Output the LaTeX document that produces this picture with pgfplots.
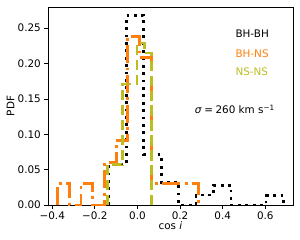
\documentclass[border=0pt]{standalone}
\usepackage{fontspec}
\setmainfont{DejaVu Sans}
\usepackage{pgfplots}
\pgfplotsset{compat=1.18}
\definecolor{mplorange}{HTML}{FF7F0E}
\definecolor{mplolive}{HTML}{BCBD22}
\begin{document}
\begin{tikzpicture}[font=\fontsize{10.4pt}{12pt}\selectfont]
\begin{axis}[
  scale only axis, width=245pt, height=198pt,
  xmin=-0.42, xmax=0.73, ymin=0, ymax=0.28,
  xtick={-0.4,-0.2,0,0.2,0.4,0.6},
  xticklabels={−0.4,−0.2,0.0,0.2,0.4,0.6},
  ytick={0,0.05,0.1,0.15,0.2,0.25},
  yticklabels={0.00,0.05,0.10,0.15,0.20,0.25},
  tick align=outside, xtick pos=bottom, ytick pos=left,
  major tick length=3.6pt,
  every tick/.style={black, line width=0.8pt},
  axis line style={line width=0.8pt},
  xlabel={cos \textit{i}}, ylabel={PDF},
  xlabel style={at={(axis description cs:0.5,-0.126)}, anchor=base},
  ylabel style={at={(axis description cs:-0.137,0.5)}, anchor=base},
  clip=false,
]
% BH-BH
\addplot[black, line width=2.8pt, line cap=butt, dash pattern=on 2.8pt off 4.6pt, const plot mark left] coordinates {
(-0.134,0) (-0.134,0.057) (-0.052,0.268) (0.030,0.071) (0.112,0.032) (0.194,0.0) (0.275,0.014) (0.357,0.028) (0.439,0.0) (0.521,0.0) (0.603,0.013) (0.685,0.013) (0.685,0)};
% BH-NS
\addplot[mplorange, line width=2.8pt, line cap=butt, dash pattern=on 17.9pt off 4.5pt on 2.8pt off 4.5pt, const plot mark left] coordinates {
(-0.375,0) (-0.375,0.030) (-0.320,0.0) (-0.265,0.030) (-0.210,0.0) (-0.155,0.060) (-0.100,0.091) (-0.045,0.238) (0.010,0.209) (0.066,0.030) (0.121,0.030) (0.176,0.030) (0.231,0.030) (0.286,0.030) (0.286,0)};
% NS-NS
\addplot[mplolive, line width=2.8pt, line cap=butt, dash pattern=on 10.4pt off 4.5pt, const plot mark left] coordinates {
(-0.139,0) (-0.139,0.057) (-0.105,0.057) (-0.070,0.171) (-0.036,0.171) (-0.002,0.229) (0.033,0.215) (0.067,0.215) (0.067,0)};
\node[anchor=base west, text=black] at (axis description cs:0.751,0.848) {BH-BH};
\node[anchor=base west, text=mplorange] at (axis description cs:0.751,0.747) {BH-NS};
\node[anchor=base west, text=mplolive] at (axis description cs:0.751,0.652) {NS-NS};
\node[anchor=base west, inner sep=0pt] at (axis description cs:0.599,0.46) {\textit{σ}\kern2.5pt=\kern2.5pt260 km s\textsuperscript{−1}};
\end{axis}
\pgfresetboundingbox
\path[use as bounding box] ([shift={(-48pt,-35pt)}]current axis.south west) rectangle ([shift={(7pt,7pt)}]current axis.north east);
\end{tikzpicture}
\end{document}
